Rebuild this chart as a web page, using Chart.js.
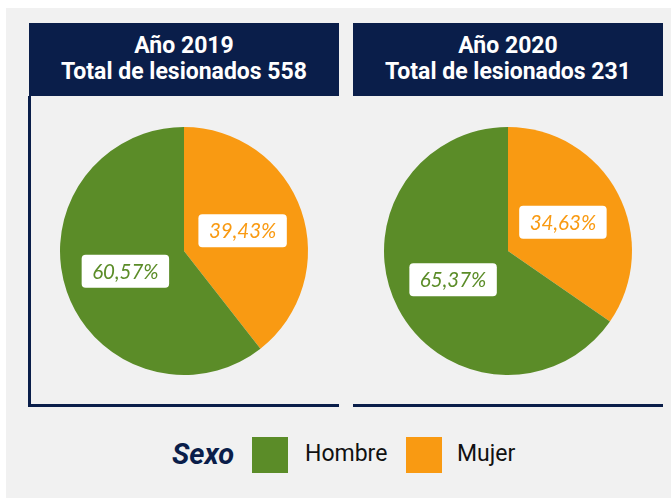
<!DOCTYPE html>
<html>
<head>
<meta charset="utf-8">
<script src="https://cdn.jsdelivr.net/npm/chart.js@4"></script>
<style>
  body { margin: 0; background: #fff; width: 671px; height: 498px; overflow: hidden; position: relative; font-family: Roboto, sans-serif; }
  #panel { position: absolute; left: 6px; top: 8px; width: 665px; height: 490px; background: #f1f1f1; }
  .head { position: absolute; top: 23px; width: 310px; height: 73px; background: #0a1e4a; color: #fff;
          font-weight: 700; font-size: 23px; line-height: 26px; text-align: center; box-sizing: border-box; padding-top: 10px; }
  .box { position: absolute; top: 96px; width: 310px; height: 310px; }
  .line { position: absolute; background: #0a1e4a; }
  #legend { position: absolute; top: 437px; left: 0; width: 671px; height: 36px; }
  #legend span, #legend i { position: absolute; }
</style>
</head>
<body>
<div id="panel"></div>
<div class="head" id="head1" style="left:29px"></div>
<div class="head" id="head2" style="left:353px"></div>
<div class="line" style="left:28px; top:96px; width:3px; height:311px"></div>
<div class="line" style="left:28px; top:404px; width:311px; height:3px"></div>
<div class="line" style="left:353px; top:404px; width:310px; height:3px"></div>
<div class="box" style="left:29px"><canvas id="pie1" width="310" height="310"></canvas></div>
<div class="box" style="left:353px"><canvas id="pie2" width="310" height="310"></canvas></div>
<div id="legend"></div>

<script>
// datos
const years = ['2019', '2020'];
const categories = ['Hombre', 'Mujer'];
const colors = ['#5b8c28', '#f99a12'];
const hombre = [338, 151];
const mujer = [220, 80];

// etiqueta blanca con el porcentaje en cada porción
const labelPlugin = {
    id: 'pctLabels',
    afterDatasetsDraw(chart) {
        const ctx = chart.ctx;
        const ds = chart.data.datasets[0];
        const total = ds.data.reduce((a, b) => a + b, 0);
        chart.getDatasetMeta(0).data.forEach((arc, i) => {
            const p = arc.tooltipPosition();
            const txt = (ds.data[i] / total * 100).toFixed(2).replace('.', ',') + '%';
            ctx.save();
            ctx.font = 'italic 20.5px Lato';
            const w = ctx.measureText(txt).width + 21;
            const h = 33;
            ctx.fillStyle = '#fff';
            ctx.beginPath();
            ctx.roundRect(p.x - w / 2, p.y - h / 2, w, h, 4);
            ctx.fill();
            ctx.fillStyle = ds.backgroundColor[i];
            ctx.textAlign = 'center';
            ctx.textBaseline = 'middle';
            ctx.fillText(txt, p.x, p.y + 1);
            ctx.restore();
        });
    }
};

function makePie(id, idx) {
    // Mujer primero para que empiece arriba en sentido horario
    const vals = [mujer[idx], hombre[idx]];
    new Chart(document.getElementById(id), {
        type: 'pie',
        data: {
            labels: [categories[1], categories[0]],
            datasets: [{
                data: vals,
                backgroundColor: [colors[1], colors[0]],
                borderWidth: 0
            }]
        },
        options: {
            responsive: false,
            animation: false,
            layout: { padding: 31 },
            plugins: { legend: { display: false }, tooltip: { enabled: false } }
        },
        plugins: [labelPlugin]
    });
    document.getElementById('head' + (idx + 1)).innerHTML =
        'Año ' + years[idx] + '<br>Total de lesionados ' + (hombre[idx] + mujer[idx]);
}

makePie('pie1', 0);
makePie('pie2', 1);

// leyenda
const legend = document.getElementById('legend');
legend.innerHTML = `
    <i style="left:172px; top:0; font: italic 700 29px Roboto; color:#0a1e4a;">Sexo</i>
    <span style="left:252px; top:0; width:36px; height:36px; background:${colors[0]}"></span>
    <span style="left:305px; top:3px; font: 23px Roboto; color:#111;">${categories[0]}</span>
    <span style="left:406px; top:0; width:36px; height:36px; background:${colors[1]}"></span>
    <span style="left:457px; top:3px; font: 23px Roboto; color:#111;">${categories[1]}</span>
`;
</script>
</body>
</html>
